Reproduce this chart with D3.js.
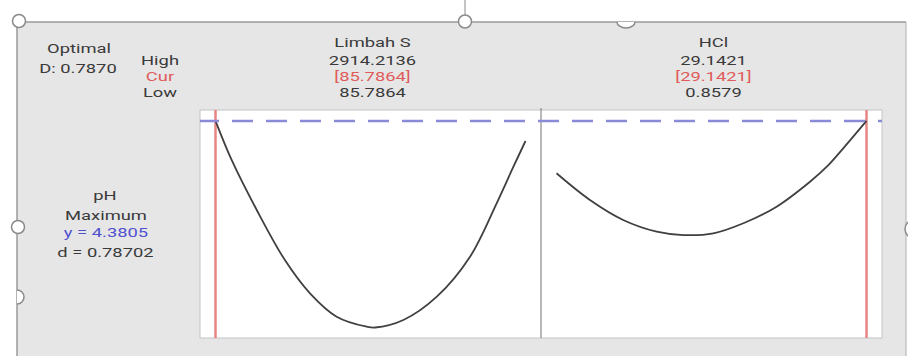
<!DOCTYPE html>
<html>
<head>
<meta charset="utf-8">
<script src="https://cdn.jsdelivr.net/npm/d3@7"></script>
<style>
  html, body { margin: 0; padding: 0; background: #ffffff; }
  svg { display: block; }
  text { font-family: Roboto, "Liberation Sans", sans-serif; font-size: 13.5px; }
</style>
</head>
<body>
<div id="chart"></div>
<script>
// ---------- data ----------
const factorNames = ["Limbah S", "HCl"];
const factorHigh = [2914.2136, 29.1421];
const factorLow = [85.7864, 0.8579];
const factorCur = [85.7864, 29.1421];
const highLabels = ["2914.2136", "29.1421"];
const curLabels = ["[85.7864]", "[29.1421]"];
const lowLabels = ["85.7864", "0.8579"];

// response curve for Limbah S (pH vs Limbah S)
const limbahX = [85.79, 232.9, 462, 719, 948, 1191, 1466, 1542, 1800, 2105, 2408, 2651, 2804, 2914.21];
const limbahY = [4.3805, 3.952, 3.404, 2.855, 2.490, 2.234, 2.124, 2.115, 2.197, 2.453, 2.891, 3.477, 3.878, 4.160];
// response curve for HCl (pH vs HCl)
const hclX = [0.8579, 3.91, 6.94, 10.0, 12.43, 15.17, 17.91, 20.94, 23.99, 25.52, 27.02, 29.1421];
const hclY = [3.806, 3.513, 3.294, 3.166, 3.129, 3.148, 3.258, 3.440, 3.714, 3.878, 4.080, 4.3805];

const responseName = "pH";
const goalLabel = "Maximum";
const yValue = 4.3805;
const yText = "y = 4.3805";
const dText = "d = 0.78702";
const optimalText = "Optimal";
const compositeText = "D: 0.7870";
const yDomain = [2.0, 4.5];

// ---------- drawing ----------
const W = 908, H = 356;
const svg = d3.select("#chart").append("svg").attr("width", W).attr("height", H);

const SX = 1.36;
const textCol = "#3a3a3a";
const redCol = "#e05a5a";
const blueCol = "#5050d0";

function txt(x, y, s, color) {
  svg.append("text")
    .attr("transform", `translate(${x},${y}) scale(${SX},1)`)
    .attr("text-anchor", "middle")
    .attr("fill", color || textCol)
    .text(s);
}

// background frame
svg.append("rect").attr("x", 17).attr("y", 22).attr("width", 889).attr("height", H - 22)
  .attr("fill", "#e6e6e6");
svg.append("line").attr("x1", 465).attr("x2", 465).attr("y1", 0).attr("y2", 22)
  .attr("stroke", "#8a8a8a").attr("stroke-width", 1);
svg.append("line").attr("x1", 17).attr("x2", 906).attr("y1", 22).attr("y2", 22)
  .attr("stroke", "#9a9a9a").attr("stroke-width", 1.5);
svg.append("line").attr("x1", 17).attr("x2", 17).attr("y1", 22).attr("y2", H)
  .attr("stroke", "#9a9a9a").attr("stroke-width", 1.5);
svg.append("line").attr("x1", 906).attr("x2", 906).attr("y1", 22).attr("y2", H)
  .attr("stroke", "#b0b0b0").attr("stroke-width", 1);

// selection handles
function handle(cx, cy, r) {
  svg.append("circle").attr("cx", cx).attr("cy", cy).attr("r", r)
    .attr("fill", "#ffffff").attr("stroke", "#8a8a8a").attr("stroke-width", 1.5);
}
handle(19, 21, 6.5);
handle(465, 21.5, 6.5);
handle(18, 227, 6.5);
svg.append("path").attr("d", "M617,22 A9,6 0 0,0 635,22")
  .attr("fill", "#ffffff").attr("stroke", "#8a8a8a").attr("stroke-width", 1.5);
svg.append("path").attr("d", "M17,290 A7,7 0 0,1 17,304")
  .attr("fill", "#ffffff").attr("stroke", "#8a8a8a").attr("stroke-width", 1.5);
handle(914, 229, 9);

// header texts
txt(79, 53, optimalText);
txt(78, 73, compositeText);
txt(160, 65, "High");
txt(160, 81, "Cur", redCol);
txt(160, 97, "Low");

// panels
const panelTop = 110, panelBottom = 338;
const panels = [[200, 541], [541, 882]];
const curves = [[limbahX, limbahY], [hclX, hclY]];

const y = d3.scaleLinear().domain(yDomain).range([panelBottom, panelTop]);

svg.append("rect").attr("x", 200).attr("y", panelTop).attr("width", 682)
  .attr("height", panelBottom - panelTop)
  .attr("fill", "#ffffff").attr("stroke", "#c4c4c4").attr("stroke-width", 1);

panels.forEach((p, i) => {
  const range = factorHigh[i] - factorLow[i];
  const x = d3.scaleLinear()
    .domain([factorLow[i] - 0.05 * range, factorHigh[i] + 0.05 * range])
    .range(p);
  const cx = (p[0] + p[1]) / 2 + 2;
  txt(cx, 47, factorNames[i]);
  txt(cx, 65, highLabels[i]);
  txt(cx, 81, curLabels[i], redCol);
  txt(cx, 97, lowLabels[i]);

  // current setting line
  svg.append("line")
    .attr("x1", x(factorCur[i])).attr("x2", x(factorCur[i]))
    .attr("y1", panelTop).attr("y2", panelBottom)
    .attr("stroke", "#e88484").attr("stroke-width", 2.5);

  const [xs, ys] = curves[i];
  const pts = xs.map((v, k) => [x(v), y(ys[k])]);
  svg.append("path")
    .attr("d", d3.line().curve(d3.curveCatmullRom.alpha(0.5))(pts))
    .attr("fill", "none").attr("stroke", "#404040").attr("stroke-width", 1.8);
});

// divider between panels
svg.append("line").attr("x1", 541).attr("x2", 541).attr("y1", panelTop - 2).attr("y2", panelBottom)
  .attr("stroke", "#8a8a8a").attr("stroke-width", 1.2);

// current y dashed line
svg.append("line")
  .attr("x1", 200).attr("x2", 882)
  .attr("y1", y(yValue)).attr("y2", y(yValue))
  .attr("stroke", "#8a8ad8").attr("stroke-width", 2.5)
  .attr("stroke-dasharray", "21,13").attr("stroke-dashoffset", 2);

// response texts
txt(105, 200, responseName);
txt(106, 220, goalLabel);
txt(106, 237, yText, blueCol);
txt(105.5, 257, dText);
</script>
</body>
</html>
